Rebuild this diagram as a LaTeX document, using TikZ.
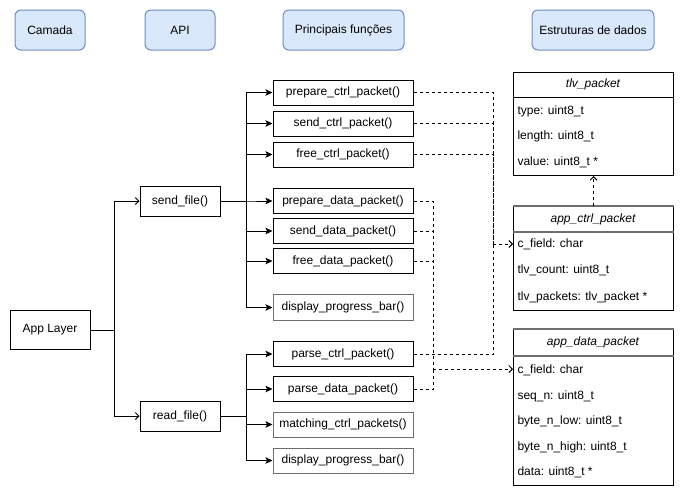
\documentclass[tikz,border=0pt]{standalone}
\usepackage{fontspec}
\setmainfont{Liberation Sans}
\usetikzlibrary{arrows.meta}
\definecolor{headfill}{RGB}{218,232,252}
\definecolor{headdraw}{RGB}{108,142,191}
\definecolor{softgray}{RGB}{110,110,110}
\begin{document}
\begin{tikzpicture}[x=1pt,y=-1pt,line width=1pt,
  font=\fontsize{12}{14}\selectfont,
  head/.style={draw=headdraw,fill=headfill,rounded corners=6pt,minimum height=40,inner sep=0},
  layerbox/.style={draw,minimum width=80,minimum height=30,inner sep=0},
  fn/.style={draw,minimum width=140,minimum height=25,inner sep=0},
  fngray/.style={fn,draw=softgray},
  cls/.style={draw,minimum width=160,anchor=north west,inner sep=0},
  clstitle/.style={font=\fontsize{12}{14}\selectfont\itshape,inner sep=0},
  field/.style={anchor=west,inner sep=0},
  tree/.style={-{Stealth[length=7pt,width=6.5pt,inset=1.5pt]}},
  barb/.style={-{Straight Barb[length=3.5pt,width=7pt]}},
  dl/.style={dash pattern=on 3pt off 3pt}]
\useasboundingbox (0,0) rectangle (684,499);

% column headers
\node[head,minimum width=70] (hcam) at (50,30) {Camada};
\node[head,minimum width=70] (hapi) at (180,30) {API};
\node[head,minimum width=121] (hfun) at (343.5,30) {Principais funções};
\node[head,minimum width=122] (hdat) at (593,30) {Estruturas de dados};

% layer and API
\node[layerbox,minimum height=39] (app) at (50,330) {App Layer};
\node[layerbox] (send) at (180,201) {send\_file()};
\node[layerbox] (read) at (180,416) {read\_file()};

\draw[barb] (app.east) -| ([xshift=-25]send.west) -- (send.west);
\draw[barb] (app.east) -| ([xshift=-25]read.west) -- (read.west);

% functions
\node[fn] (pcp) at (343,92.5) {prepare\_ctrl\_packet()};
\node[fn] (scp) at (343,123.5) {send\_ctrl\_packet()};
\node[fn] (fcp) at (343,154.5) {free\_ctrl\_packet()};
\node[fn] (pdp) at (343,201) {prepare\_data\_packet()};
\node[fn] (sdp) at (343,231) {send\_data\_packet()};
\node[fn] (fdp) at (343,261) {free\_data\_packet()};
\node[fngray,minimum height=26] (dpb) at (343,307.5) {display\_progress\_bar()};
\node[fn] (prc) at (343,354) {parse\_ctrl\_packet()};
\node[fn] (prd) at (343,389) {parse\_data\_packet()};
\node[fngray] (mcp) at (343,424.5) {matching\_ctrl\_packets()};
\node[fngray] (dpr) at (343,460.5) {display\_progress\_bar()};

\foreach \f in {pcp,scp,fcp,pdp,sdp,fdp,dpb}
  \draw[tree] (send.east) -| ([xshift=-26]\f.west) -- (\f.west);
\foreach \f in {prc,prd,mcp,dpr}
  \draw[tree] (read.east) -| ([xshift=-26]\f.west) -- (\f.west);

% data structures
\node[cls,minimum height=103] (tlv) at (513,72) {};
\node[clstitle] (tlvt) at (593,84.5) {tlv\_packet};
\draw (tlv.west |- 0,97) -- (tlv.east |- 0,97);
\node[field] (tlvf1) at (517,111) {type: uint8\_t};
\node[field] (tlvf2) at (517,136) {length: uint8\_t};
\node[field] (tlvf3) at (517,162) {value: uint8\_t *};

\node[cls,minimum height=104] (actrl) at (513,206) {};
\draw[softgray,line width=1.6pt] (actrl.north west) -- (actrl.north east);
\node[clstitle] (actrlt) at (593,219) {app\_ctrl\_packet};
\draw[softgray,line width=1.6pt] (actrl.west |- 0,232) -- (actrl.east |- 0,232);
\node[field] (actrlf1) at (517,244) {c\_field: char};
\node[field] (actrlf2) at (517,270) {tlv\_count: uint8\_t};
\node[field] (actrlf3) at (517,297) {tlv\_packets: tlv\_packet *};

\node[cls,minimum height=156] (adata) at (513,329) {};
\draw[softgray,line width=1.6pt] (adata.north west) -- (adata.north east);
\node[clstitle] (adatat) at (593,342.5) {app\_data\_packet};
\draw[softgray,line width=1.6pt] (adata.west |- 0,356) -- (adata.east |- 0,356);
\node[field] (adataf1) at (517,370) {c\_field: char};
\node[field] (adataf2) at (517,396) {seq\_n: uint8\_t};
\node[field] (adataf3) at (517,421) {byte\_n\_low: uint8\_t};
\node[field] (adataf4) at (517,447) {byte\_n\_high: uint8\_t};
\node[field] (adataf5) at (517,472) {data: uint8\_t *};

\draw[dl,barb] (actrl.north) -- (tlv.south);

% usage links
\coordinate (cbus) at (493,244);
\coordinate (dbus) at (433,369);
\foreach \f in {pcp,scp,fcp,prc}
  \draw[dl] (\f.east) -| (cbus);
\draw[dl,barb] (cbus) -- (actrl.west |- cbus);
\foreach \f in {pdp,sdp,fdp,prd}
  \draw[dl] (\f.east) -| (dbus);
\draw[dl,barb] (dbus) -- (adata.west |- dbus);
\end{tikzpicture}
\end{document}
